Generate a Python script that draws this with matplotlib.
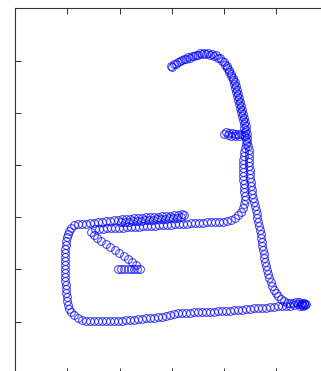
import matplotlib
matplotlib.use("Agg")
import matplotlib.pyplot as plt
import numpy as np

# Track segments (data units)
branch_x = [103, 106, 109, 113, 116, 119, 122, 125]
branch_y = [105, 105, 105, 105, 105, 105, 105, 105]

diag_x = [121, 117, 113, 109, 104, 100, 95, 91, 86, 82, 79, 76]
diag_y = [109, 112, 115, 118, 121, 124, 127, 130, 133, 136, 139, 142]

upper_out_x = [54, 56, 59, 63, 67, 71, 75, 79, 83, 87, 91, 95, 99, 103, 107, 111, 115, 119, 123, 127,
               131, 135, 139, 143, 147, 151, 155, 159, 163, 167, 169]
upper_out_y = [143, 146, 149, 150, 150, 150, 151, 151, 152, 152, 153, 153, 154, 154, 155, 155, 155, 156, 156, 156,
               157, 157, 157, 157, 158, 158, 158, 159, 159, 160, 159]

upper_back_x = [166, 162, 158, 154, 150, 146, 142, 138, 134, 130, 126, 122, 118, 114, 110, 106]
upper_back_y = [157, 156, 156, 156, 155, 155, 155, 154, 154, 154, 153, 153, 153, 152, 152, 152]

lower_x = [80, 84, 88, 92, 96, 100, 104, 108, 112, 116, 120, 124, 128, 132, 136, 140, 144, 148, 152, 156,
           160, 164, 168, 172, 176, 180, 184, 188, 192, 196, 200, 204,
           208, 212, 216, 220, 223, 226, 228, 229]
lower_y = [145, 145, 145, 146, 146, 146, 146, 146, 147, 147, 147, 147, 148, 148, 148, 148, 149, 149, 149, 149,
           150, 150, 150, 150, 151, 151, 151, 151, 152, 152, 152, 152,
           152, 153, 154, 156, 159, 162, 166, 170]

mid_x = [230, 230, 229, 229, 229, 228, 228, 228, 228, 228, 228, 229, 229, 230]
mid_y = [174, 178, 182, 186, 190, 194, 198, 202, 206, 210, 214, 218, 222, 226]

top_up_x = [231, 231, 230, 230, 229, 229, 228, 227, 226, 225, 224, 223, 222, 221, 220, 219, 218, 216, 214, 212, 210,
            207, 203, 199, 195, 191, 187, 183, 179, 175, 171, 167, 163, 159, 156]
top_up_y = [230, 234, 238, 242, 246, 250, 254, 258, 262, 266, 270, 274, 278, 282, 286, 290, 294, 298, 302, 306, 309,
            313, 316, 318, 319, 320, 320, 319, 318, 316, 315, 314, 312, 310, 308]

top_down_x = [157, 161, 165, 169, 173, 177, 181, 185, 189, 193, 197, 201, 205, 209, 212,
              214, 216, 218, 220, 221, 222, 223, 224, 225, 226, 227, 228, 229, 230, 231, 231, 232, 232, 232, 233]
top_down_y = [307, 310, 313, 315, 317, 318, 319, 321, 321, 321, 320, 319, 316, 312, 308,
              304, 300, 296, 292, 288, 284, 280, 276, 272, 268, 264, 260, 256, 252, 248, 244, 240, 236, 232, 228]

spur_x = [211, 214, 217, 220, 223, 226, 229, 213, 216, 220, 224, 209]
spur_y = [242, 241, 241, 240, 240, 240, 239, 239, 238, 238, 238, 240]

right_x = [234, 234, 234, 234, 234, 235, 235, 235, 236, 236, 237, 237, 238, 239, 240, 241, 242, 242, 243, 244,
           245, 246, 246, 247, 247, 248, 249, 249, 250, 251, 252, 253, 254, 256, 257, 259, 261, 263, 266, 269]
right_y = [224, 220, 216, 212, 208, 204, 200, 196, 192, 188, 184, 180, 176, 172, 168, 164, 160, 156, 152, 148,
           144, 140, 136, 132, 128, 124, 120, 116, 112, 108, 104, 100, 96, 92, 88, 84, 81, 78, 75, 73]

cluster_x = [272, 275, 278, 281, 284, 287, 289, 290, 288, 285, 287, 289, 291, 286, 283]
cluster_y = [71, 71, 71, 72, 72, 71, 70, 69, 68, 68, 69, 71, 70, 70, 70]

bottom_x = [279, 275, 271, 267, 263, 259, 255, 251, 247, 243, 239, 235, 231, 227, 223, 219, 215, 211, 207, 203,
            199, 195, 191, 187, 183, 179, 175, 171, 167, 163, 159, 155, 151, 147, 143, 139, 135, 131, 127, 123,
            119, 115, 111, 107, 103, 99, 95, 91, 87, 83, 79, 75, 71, 67, 63]
bottom_y = [69, 68, 68, 68, 68, 67, 67, 66, 66, 66, 66, 65, 65, 64, 64, 64, 63, 63, 63, 63,
            62, 62, 62, 62, 62, 62, 61, 61, 61, 61, 60, 59, 58, 57, 57, 56, 56, 56, 55, 55,
            54, 54, 54, 53, 53, 53, 53, 53, 53, 53, 53, 53, 53, 54, 56]

left_x = [59, 56, 54, 53, 52, 52, 51, 51, 51, 50, 50, 50, 50, 50, 50, 50, 50, 50, 51, 51, 52, 53]
left_y = [59, 62, 65, 69, 73, 77, 81, 85, 89, 93, 97, 101, 105, 109, 113, 117, 121, 125, 129, 133, 137, 140]

segments = [
    (branch_x, branch_y), (diag_x, diag_y), (upper_out_x, upper_out_y), (upper_back_x, upper_back_y),
    (lower_x, lower_y), (mid_x, mid_y), (top_up_x, top_up_y), (top_down_x, top_down_y),
    (spur_x, spur_y), (right_x, right_y), (cluster_x, cluster_y), (bottom_x, bottom_y), (left_x, left_y),
]

fig = plt.figure(figsize=(3.21, 3.71), dpi=100)
ax = fig.add_axes([15.3 / 321, (371 - 373.7) / 371, 313.2 / 321, 365.4 / 371])

for sx, sy in segments:
    ax.plot(sx, sy, linestyle="none", marker="o", markerfacecolor="none",
            markeredgecolor=(0, 0, 1), markersize=5.6, markeredgewidth=0.75, alpha=0.72)

ax.set_xlim(0.3, 313.5)
ax.set_ylim(0.3, 365.7)
ax.set_xticks([0.3 + 52.2 * k for k in range(7)])
ax.set_yticks([0.3 + 52.2 * k for k in range(8)])
ax.tick_params(direction="in", length=4.5, width=0.7, top=True, right=True,
               labelbottom=False, labelleft=False, colors="#333333")
for sp in ax.spines.values():
    sp.set_linewidth(0.8)
    sp.set_color("#333333")

fig.savefig("out.png", dpi=100)
